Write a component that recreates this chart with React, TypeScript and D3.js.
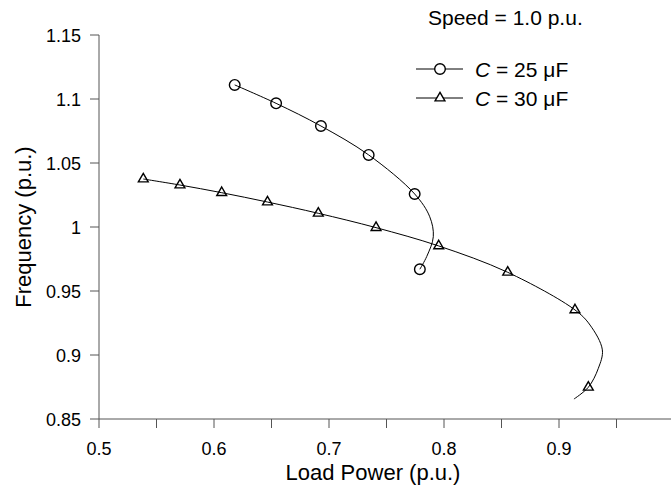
import React from "react";
import * as d3 from "d3";

// Marker data (Load Power, Frequency)
const c25Power = [0.618, 0.654, 0.693, 0.7345, 0.7745, 0.779];
const c25Freq = [1.111, 1.0966, 1.0789, 1.0563, 1.0258, 0.967];
const c30Power = [0.5385, 0.5704, 0.6067, 0.6465, 0.6907, 0.7409, 0.7954, 0.8554, 0.9139, 0.9255];
const c30Freq = [1.0375, 1.0328, 1.0268, 1.0195, 1.0107, 0.9995, 0.9852, 0.9646, 0.9352, 0.8748];

// Fitted curves
const c25CurvePower = [0.618, 0.654, 0.693, 0.7345, 0.7745, 0.7876, 0.7907, 0.785, 0.779];
const c25CurveFreq = [1.111, 1.0966, 1.0789, 1.0563, 1.0258, 1.008, 0.9924, 0.977, 0.967];
const c30CurvePower = [0.5385, 0.5704, 0.6067, 0.6465, 0.6907, 0.7409, 0.7954, 0.8554, 0.9139, 0.927, 0.9377, 0.9342, 0.9255, 0.913];
const c30CurveFreq = [1.0375, 1.0328, 1.0268, 1.0195, 1.0107, 0.9995, 0.9852, 0.9646, 0.9352, 0.9234, 0.904, 0.8896, 0.8748, 0.8656];

const xTicks = [0.5, 0.55, 0.6, 0.65, 0.7, 0.75, 0.8, 0.85, 0.9, 0.95];
const xTickLabels = ["0.5", "", "0.6", "", "0.7", "", "0.8", "", "0.9", ""];
const yTicks = [0.85, 0.9, 0.95, 1, 1.05, 1.1, 1.15];
const yTickLabels = ["0.85", "0.9", "0.95", "1", "1.05", "1.1", "1.15"];

const W = 671;
const H = 488;
const FONT = "'Liberation Sans', Arial, sans-serif";

export default function App() {
  const x = d3.scaleLinear().domain([0.5, 1.0]).range([99, 674]);
  const y = d3.scaleLinear().domain([0.85, 1.15]).range([419, 35]);

  const line = d3
    .line<[number, number]>()
    .x((d) => x(d[0]))
    .y((d) => y(d[1]))
    .curve(d3.curveCatmullRom.alpha(0.5));

  const c25Curve = c25CurvePower.map((p, i) => [p, c25CurveFreq[i]] as [number, number]);
  const c30Curve = c30CurvePower.map((p, i) => [p, c30CurveFreq[i]] as [number, number]);

  const tri = d3.symbol().type(d3.symbolTriangle).size(42)();

  const axisColor = "#555";

  return (
    <svg
      width={W}
      height={H}
      style={{ position: "absolute", left: 0, top: 0, background: "#fff" }}
      fontFamily={FONT}
    >
      <rect x={0} y={0} width={W} height={H} fill="#fff" />
      {/* axes */}
      <line x1={99} x2={W} y1={y(0.85)} y2={y(0.85)} stroke={axisColor} strokeWidth={1} />
      <line x1={99} x2={99} y1={y(1.15)} y2={y(0.85)} stroke={axisColor} strokeWidth={1} />
      {xTicks.map((t, i) => (
        <g key={"xt" + i}>
          <line x1={x(t)} x2={x(t)} y1={y(0.85)} y2={y(0.85) + 9} stroke={axisColor} />
          {xTickLabels[i] && (
            <text x={x(t)} y={455} textAnchor="middle" fontSize={18} fill="#000">
              {xTickLabels[i]}
            </text>
          )}
        </g>
      ))}
      {yTicks.map((t, i) => (
        <g key={"yt" + i}>
          <line x1={90} x2={99} y1={y(t)} y2={y(t)} stroke={axisColor} />
          <text x={81} y={y(t) + 6.5} textAnchor="end" fontSize={18} fill="#000">
            {yTickLabels[i]}
          </text>
        </g>
      ))}
      <text x={373} y={480} textAnchor="middle" fontSize={22} fill="#000">
        Load Power (p.u.)
      </text>
      <text
        transform={`translate(31, ${(y(0.85) + y(1.15)) / 2}) rotate(-90)`}
        textAnchor="middle"
        fontSize={22}
        fill="#000"
      >
        Frequency (p.u.)
      </text>

      {/* curves */}
      <path d={line(c25Curve) || ""} fill="none" stroke="#000" strokeWidth={1} />
      <path d={line(c30Curve) || ""} fill="none" stroke="#000" strokeWidth={1} />

      {c25Power.map((p, i) => (
        <circle key={"c" + i} cx={x(p)} cy={y(c25Freq[i])} r={5.3} fill="none" stroke="#000" strokeWidth={1.4} />
      ))}
      {c30Power.map((p, i) => (
        <path key={"t" + i} d={tri || ""} transform={`translate(${x(p)},${y(c30Freq[i])})`} fill="none" stroke="#000" strokeWidth={1.4} />
      ))}

      {/* annotation & legend */}
      <text x={428} y={25} fontSize={21} fill="#000">
        Speed = 1.0 p.u.
      </text>
      <line x1={416} x2={463} y1={69} y2={69} stroke="#000" />
      <circle cx={440} cy={69} r={5.3} fill="#fff" stroke="#000" strokeWidth={1.4} />
      <text x={475} y={77} fontSize={21} fill="#000">
        <tspan fontStyle="italic">C</tspan> = 25 μF
      </text>
      <line x1={416} x2={463} y1={98} y2={98} stroke="#000" />
      <path d={tri || ""} transform="translate(440,98)" fill="#fff" stroke="#000" strokeWidth={1.4} />
      <text x={475} y={106} fontSize={21} fill="#000">
        <tspan fontStyle="italic">C</tspan> = 30 μF
      </text>
    </svg>
  );
}
